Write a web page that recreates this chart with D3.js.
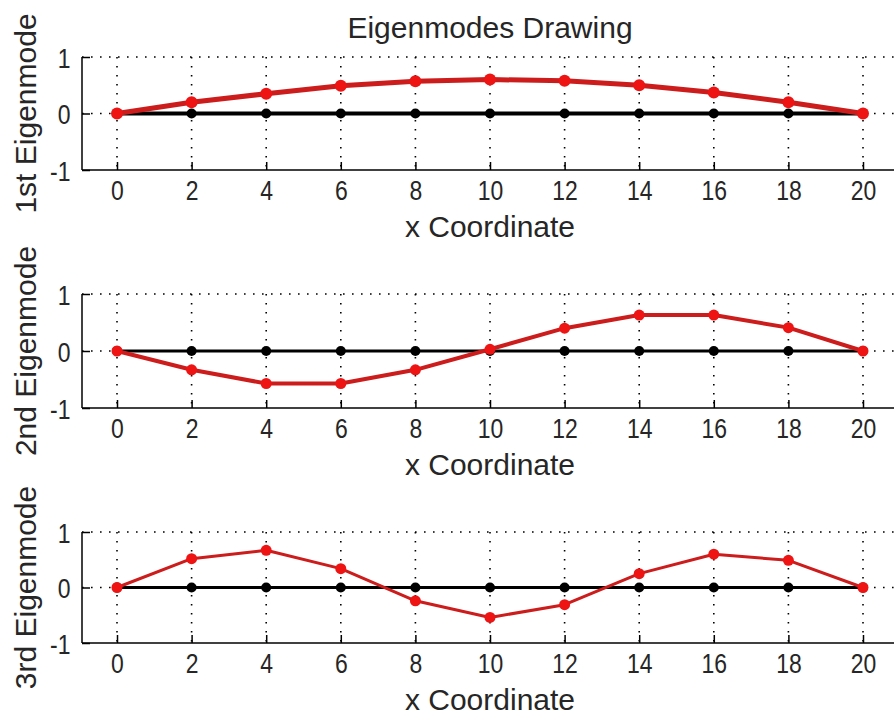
<!DOCTYPE html>
<html>
<head>
<meta charset="utf-8">
<script src="https://cdn.jsdelivr.net/npm/d3@7"></script>
<style>
  html, body { margin: 0; padding: 0; background: #fff; }
  svg { display: block; }
  text { font-family: "Liberation Sans", Arial, Helvetica, sans-serif; fill: #262626; }
</style>
</head>
<body>
<svg id="chart" width="894" height="715"></svg>
<script>
// ---------- data ----------
const title = "Eigenmodes Drawing";
const xCoords = [0, 2, 4, 6, 8, 10, 12, 14, 16, 18, 20];
const baseline = [0, 0, 0, 0, 0, 0, 0, 0, 0, 0, 0];
const mode1 = [0, 0.20, 0.35, 0.49, 0.57, 0.60, 0.58, 0.50, 0.37, 0.20, 0];
const mode2 = [0, -0.33, -0.57, -0.57, -0.33, 0.03, 0.40, 0.63, 0.63, 0.41, 0];
const mode3 = [0, 0.52, 0.67, 0.34, -0.24, -0.54, -0.31, 0.25, 0.60, 0.49, 0];
const modeLabels = ["1st Eigenmode", "2nd Eigenmode", "3rd Eigenmode"];
const xLabel = "x Coordinate";
const xTicks = [0, 2, 4, 6, 8, 10, 12, 14, 16, 18, 20];
const yTicks = [-1, 0, 1];

// ---------- layout ----------
const svg = d3.select("#chart");
const W = 894;
const axLeft = 82;
const x = d3.scaleLinear().domain([0, 20]).range([117, 863]);
const fmt = d => String(d);

const panels = [
  { values: mode1, label: modeLabels[0], top: 57, bottom: 170, lw: 5, bw: 4, mr: 6, br: 5 },
  { values: mode2, label: modeLabels[1], top: 294, bottom: 408, lw: 4, bw: 3.2, mr: 5.5, br: 5 },
  { values: mode3, label: modeLabels[2], top: 532, bottom: 643, lw: 3, bw: 3.2, mr: 5.5, br: 5 }
];

svg.append("text")
  .attr("x", 490).attr("y", 38)
  .attr("text-anchor", "middle")
  .style("font-size", "30px")
  .text(title);

panels.forEach(p => {
  const y = d3.scaleLinear().domain([-1, 1]).range([p.bottom, p.top]);
  const g = svg.append("g");

  // grid: vertical dotted
  g.append("g").selectAll("line").data(xTicks).join("line")
    .attr("x1", d => x(d)).attr("x2", d => x(d))
    .attr("y1", y(1)).attr("y2", y(-1))
    .attr("stroke", "#000").attr("stroke-width", 1.6)
    .attr("stroke-dasharray", "1.6,7.4");
  // grid: horizontal dotted
  g.append("g").selectAll("line").data(yTicks.filter(v => v > -1)).join("line")
    .attr("x1", axLeft).attr("x2", W)
    .attr("y1", d => y(d)).attr("y2", d => y(d))
    .attr("stroke", "#000").attr("stroke-width", 1.6)
    .attr("stroke-dasharray", "1.6,7.4");

  // x axis (bottom)
  const xa = d3.axisBottom(x).tickValues(xTicks).tickSize(-8).tickPadding(16).tickFormat(fmt);
  const gx = g.append("g").attr("transform", `translate(0,${y(-1)})`).call(xa);
  gx.select(".domain").remove();
  gx.selectAll(".tick line").attr("stroke", "#000").attr("stroke-width", 1.5);
  gx.selectAll(".tick text")
    .style("font-size", "28px").attr("fill", "#262626")
    .attr("transform", "scale(0.82,1)")
    .attr("y", 10).attr("dy", "0.71em");
  g.append("line")
    .attr("x1", axLeft).attr("x2", W)
    .attr("y1", y(-1)).attr("y2", y(-1))
    .attr("stroke", "#000").attr("stroke-width", 1.5);

  // y axis (left)
  const ya = d3.axisLeft(y).tickValues(yTicks).tickSize(-8).tickPadding(12).tickFormat(fmt);
  const gy = g.append("g").attr("transform", `translate(${axLeft},0)`).call(ya);
  gy.select(".domain").remove();
  gy.selectAll(".tick line").attr("stroke", "#000").attr("stroke-width", 1.5);
  gy.selectAll(".tick text")
    .style("font-size", "28px").attr("fill", "#262626")
    .attr("transform", "scale(0.82,1)")
    .attr("x", -14).attr("dy", "0.36em");
  g.append("line")
    .attr("x1", axLeft).attr("x2", axLeft)
    .attr("y1", y(1)).attr("y2", y(-1))
    .attr("stroke", "#000").attr("stroke-width", 1.5);

  // x label
  g.append("text")
    .attr("x", 490).attr("y", y(-1) + 67)
    .attr("text-anchor", "middle")
    .style("font-size", "30px")
    .text(xLabel);

  // y label
  g.append("text")
    .attr("transform", `translate(36,${(p.top + p.bottom) / 2}) rotate(-90)`)
    .attr("text-anchor", "middle")
    .style("font-size", "30px")
    .text(p.label);

  const line = d3.line().x((d, i) => x(xCoords[i])).y(d => y(d));

  // baseline (undeformed)
  g.append("path").datum(baseline)
    .attr("d", line).attr("fill", "none")
    .attr("stroke", "#000").attr("stroke-width", p.bw);
  g.append("g").selectAll("circle").data(baseline).join("circle")
    .attr("cx", (d, i) => x(xCoords[i])).attr("cy", d => y(d))
    .attr("r", p.br).attr("fill", "#000");

  // eigenmode
  g.append("path").datum(p.values)
    .attr("d", line).attr("fill", "none")
    .attr("stroke", "#cc1c1c").attr("stroke-width", p.lw)
    .attr("stroke-linejoin", "round");
  g.append("g").selectAll("circle").data(p.values).join("circle")
    .attr("cx", (d, i) => x(xCoords[i])).attr("cy", d => y(d))
    .attr("r", p.mr).attr("fill", "#ee1414");
});
</script>
</body>
</html>
